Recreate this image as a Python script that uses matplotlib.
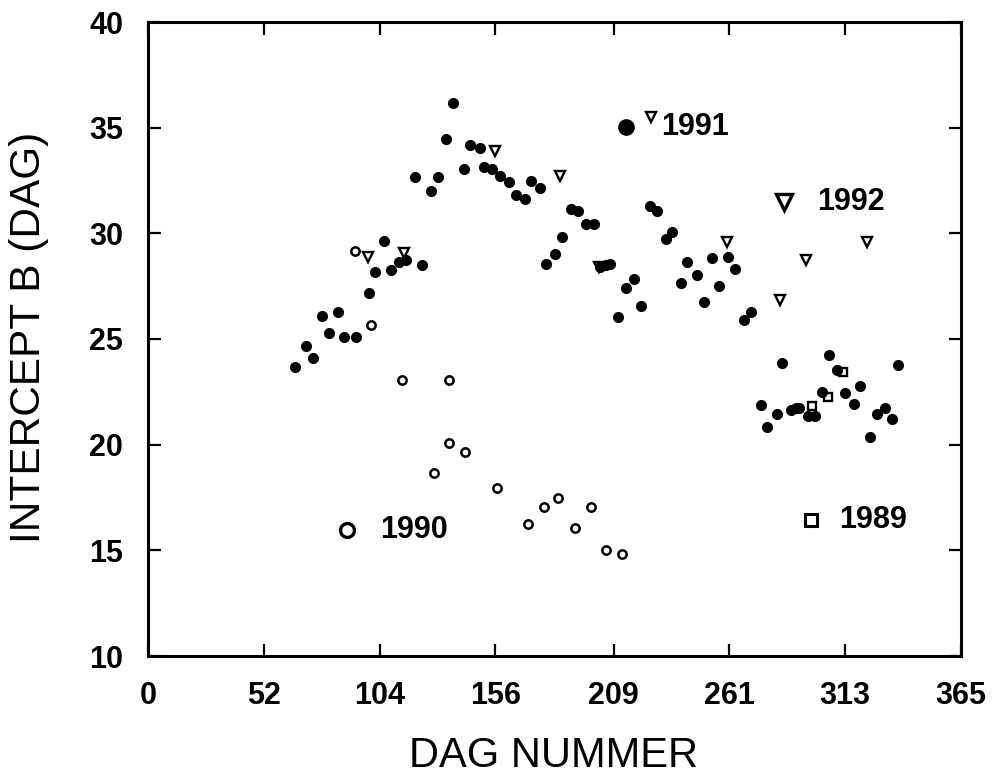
import matplotlib
matplotlib.use("Agg")
import matplotlib.pyplot as plt

plt.rcParams['font.family'] = ['Liberation Sans', 'DejaVu Sans']

# 1991 (filled circles)
x1991 = [65.8, 71.0, 74.0, 78.1, 81.2, 85.3, 88.1, 93.2, 99.2, 102.0, 106.1, 108.9,
         112.9, 116.0, 123.0, 119.9, 127.2, 130.2, 133.8, 136.9, 141.7, 144.7, 148.9,
         150.7, 154.5, 157.9, 162.1, 165.3, 169.1, 172.0, 175.9, 178.9, 182.9, 185.9,
         189.8, 192.9, 196.7, 200.1, 203.1, 205.4, 207.3, 211.2, 214.4, 218.1, 221.4,
         225.2, 228.3, 232.4, 235.4, 239.2, 242.1, 246.3, 249.4, 253.3, 256.5, 260.4,
         263.4, 267.6, 270.9, 275.1, 278.1, 282.2, 284.8, 288.9, 290.8, 292.3, 296.3,
         299.3, 302.8, 305.9, 309.5, 312.8, 317.0, 319.7, 324.2, 327.1, 330.8, 333.9,
         336.8]
y1991 = [23.68, 24.68, 24.12, 26.10, 25.28, 26.29, 25.08, 25.08, 27.16, 28.17, 29.66, 28.26,
         28.65, 28.75, 28.48, 32.67, 31.98, 32.67, 34.47, 36.15, 33.06, 34.17, 34.06,
         33.14, 33.06, 32.73, 32.45, 31.83, 31.63, 32.47, 32.15, 28.54, 29.03, 29.85,
         31.17, 31.05, 30.43, 30.43, 28.43, 28.50, 28.54, 26.02, 27.41, 27.82, 26.54,
         31.27, 31.05, 29.74, 30.04, 27.63, 28.64, 28.04, 26.75, 28.84, 27.53, 28.88,
         28.32, 25.91, 26.26, 21.86, 20.84, 21.45, 23.87, 21.63, 21.72, 21.72, 21.38,
         21.35, 22.47, 24.24, 23.55, 22.45, 21.94, 22.76, 20.35, 21.45, 21.75, 21.23,
         23.75]

# 1990 (open circles)
x1990 = [92.9, 100.1, 114.2, 135.3, 135.3, 142.2, 128.2, 156.7, 177.7, 184.1, 198.8,
         170.8, 191.6, 205.7, 212.6]
y1990 = [29.17, 25.66, 23.06, 23.06, 20.09, 19.66, 18.67, 17.94, 17.06, 17.49, 17.06,
         16.26, 16.04, 15.03, 14.84]

# 1992 (open down-triangles)
x1992 = [98.6, 115.1, 156.0, 184.9, 202.7, 225.9, 260.1, 283.6, 295.6, 322.6]
y1992 = [28.90, 29.09, 33.90, 32.72, 28.40, 35.52, 29.57, 26.86, 28.75, 29.61]

# 1989 (open squares)
x1989 = [298.0, 305.5, 312.1]
y1989 = [21.85, 22.24, 23.42]

xticks = [0, 52, 104, 156, 209, 261, 313, 365]
yticks = [10, 15, 20, 25, 30, 35, 40]

fig = plt.figure(figsize=(9.96, 7.83), dpi=100)
ax = fig.add_axes([148/996, 1-656/783, (961-148)/996, (656-22)/783])

ax.plot(x1992, y1992, linestyle='none', marker='v', ms=6.5, mfc='white', mec='black', mew=1.7, zorder=3)
ax.plot(x1990, y1990, linestyle='none', marker='o', ms=6, mfc='white', mec='black', mew=1.8, zorder=3)
ax.plot(x1989, y1989, linestyle='none', marker='s', ms=5.5, mfc='white', mec='black', mew=1.7, zorder=3)
ax.plot(x1991, y1991, linestyle='none', marker='o', ms=7, mfc='black', mec='black', zorder=4)

# in-plot legend keys
ax.plot([214.8], [35.05], linestyle='none', marker='o', ms=11, mfc='black', mec='black')
ax.text(230.5, 35.05, '1991', fontsize=22, va='center', ha='left', fontweight='bold')
ax.plot([285.5], [31.5], linestyle='none', marker='v', ms=11, mfc='white', mec='black', mew=2.4)
ax.text(300.5, 31.5, '1992', fontsize=22, va='center', ha='left', fontweight='bold')
ax.plot([89.3], [15.95], linestyle='none', marker='o', ms=10, mfc='white', mec='black', mew=2.4)
ax.text(104.3, 15.95, '1990', fontsize=22, va='center', ha='left', fontweight='bold')
ax.plot([297.5], [16.45], linestyle='none', marker='s', ms=9, mfc='white', mec='black', mew=2.2)
ax.text(310.5, 16.45, '1989', fontsize=22, va='center', ha='left', fontweight='bold')

ax.set_xlim(0, 365)
ax.set_ylim(10, 40)
ax.set_xticks(xticks)
ax.set_yticks(yticks)
ax.set_xticklabels([str(t) for t in xticks], fontweight='bold')
ax.set_yticklabels([str(t) for t in yticks], fontweight='bold')
ax.tick_params(direction='in', length=9, width=1.6, top=True, right=True,
               labelsize=22, pad=18)
for s in ax.spines.values():
    s.set_linewidth(2.2)

fig.text(0.556, 1-756/783, 'DAG NUMMER', fontsize=30, ha='center', va='center')
fig.text(29/996, 1-337/783, 'INTERCEPT B (DAG)', fontsize=30.5, ha='center', va='center',
         rotation=90)

fig.savefig('out.png', dpi=100)
